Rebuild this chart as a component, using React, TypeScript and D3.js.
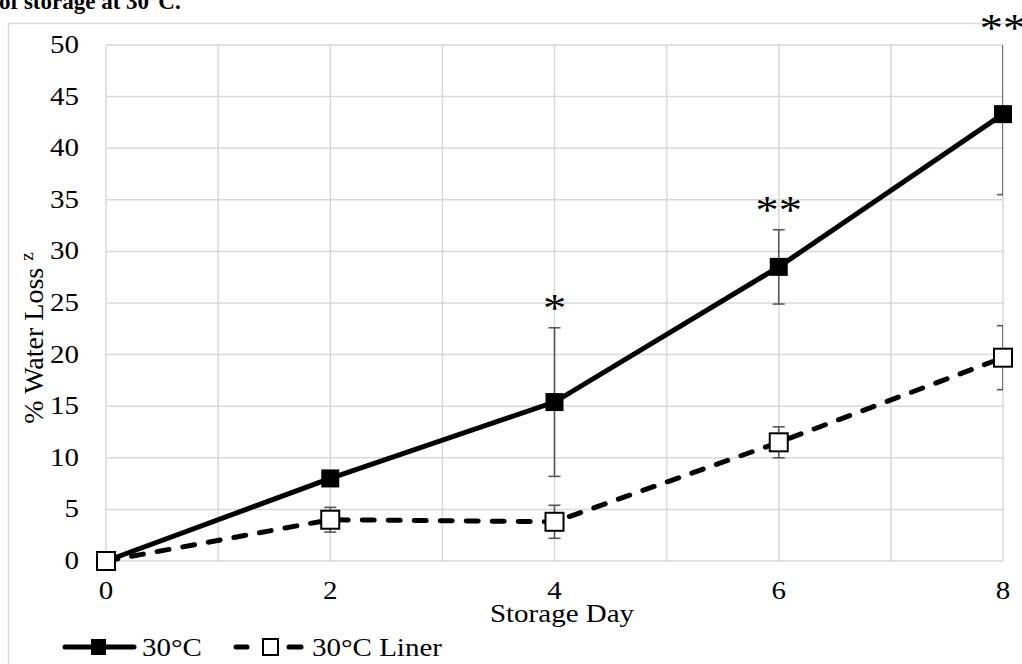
import React, { useEffect, useRef } from "react";
import * as d3 from "d3";

const days = [0, 2, 4, 6, 8];
const tempMeans = [0, 8.0, 15.4, 28.5, 43.3];
const tempErr = [0, 0.4, 7.2, 3.6, 7.8];
const linerMeans = [0, 4.0, 3.8, 11.5, 19.7];
const linerErr = [0, 1.2, 1.6, 1.5, 3.1];
const stars = ["", "", "*", "**", "**"];
const yTicks = [0, 5, 10, 15, 20, 25, 30, 35, 40, 45, 50];
const xTicks = [0, 2, 4, 6, 8];
const xGrid = [0, 1, 2, 3, 4, 5, 6, 7, 8];

const App = () => {
  const chartRef = useRef<SVGSVGElement>(null);

  useEffect(() => {
    const W = 1022;
    const H = 664;
    const plot = { left: 106, top: 45, right: 1003, bottom: 561 };
    const font = "'Liberation Serif', 'Times New Roman', serif";
    const fs = 25;
    const sx = 1.16; // text in the picture is a bit wide

    const svg = d3.select(chartRef.current).attr("width", W).attr("height", H);
    svg.selectAll("*").remove();

    const x = d3.scaleLinear().domain([0, 8]).range([plot.left, plot.right]);
    const y = d3.scaleLinear().domain([0, 50]).range([plot.bottom, plot.top]);

    const label = (g: any, tx: number, ty: number, str: string, anchor = "start", size = fs) =>
      g
        .append("text")
        .attr("transform", `translate(${tx},${ty}) scale(${sx},1)`)
        .attr("text-anchor", anchor)
        .attr("font-family", font)
        .attr("font-size", size)
        .attr("fill", "#000")
        .text(str);

    svg
      .append("defs")
      .append("clipPath")
      .attr("id", "plotclip")
      .append("rect")
      .attr("x", plot.left - 20)
      .attr("y", plot.top)
      .attr("width", plot.right - plot.left + 20)
      .attr("height", plot.bottom - plot.top + 20);

    // cut-off caption above the chart
    svg
      .append("text")
      .attr("x", -1)
      .attr("y", 9)
      .attr("font-family", font)
      .attr("font-weight", "bold")
      .attr("font-size", 23)
      .attr("fill", "#000")
      .text("of storage at 30°C.");

    // outer chart border
    svg
      .append("rect")
      .attr("x", 8.5)
      .attr("y", 23.5)
      .attr("width", 1040)
      .attr("height", 700)
      .attr("fill", "none")
      .attr("stroke", "#d9d9d9")
      .attr("stroke-width", 1.5);

    // grid
    svg
      .append("g")
      .selectAll("line")
      .data(yTicks)
      .enter()
      .append("line")
      .attr("x1", plot.left)
      .attr("x2", plot.right)
      .attr("y1", (d) => y(d))
      .attr("y2", (d) => y(d))
      .attr("stroke", "#d9d9d9")
      .attr("stroke-width", 1.5);

    svg
      .append("g")
      .selectAll("line")
      .data(xGrid)
      .enter()
      .append("line")
      .attr("x1", (d) => x(d))
      .attr("x2", (d) => x(d))
      .attr("y1", plot.top)
      .attr("y2", plot.bottom)
      .attr("stroke", "#d9d9d9")
      .attr("stroke-width", 1.5);

    // tick labels
    const tg = svg.append("g");
    yTicks.forEach((d) => label(tg, 79, y(d) + 8, String(d), "end"));
    xTicks.forEach((d) => label(tg, x(d), 599, String(d), "middle"));
    label(tg, 562, 622, "Storage Day", "middle");

    const yl = svg
      .append("text")
      .attr("transform", "translate(43,338) rotate(-90)")
      .attr("text-anchor", "middle")
      .attr("font-family", font)
      .attr("font-size", 28)
      .attr("fill", "#000");
    yl.append("tspan").text("% Water Loss ");
    yl.append("tspan").attr("font-size", 19).attr("dy", -10).text("z");

    // error bars
    const errG = svg.append("g").attr("clip-path", "url(#plotclip)");
    const drawErr = (means: number[], errs: number[]) => {
      days.forEach((d, i) => {
        if (!errs[i]) return;
        const cx = x(d);
        const hi = y(means[i] + errs[i]);
        const lo = y(means[i] - errs[i]);
        errG
          .append("line")
          .attr("x1", cx)
          .attr("x2", cx)
          .attr("y1", hi)
          .attr("y2", lo)
          .attr("stroke", "#595959")
          .attr("stroke-width", 1.6);
        [hi, lo].forEach((yy) => {
          errG
            .append("line")
            .attr("x1", cx - 6)
            .attr("x2", cx + 6)
            .attr("y1", yy)
            .attr("y2", yy)
            .attr("stroke", "#595959")
            .attr("stroke-width", 1.6);
        });
      });
    };
    drawErr(tempMeans, tempErr);
    drawErr(linerMeans, linerErr);

    const line = d3
      .line<number>()
      .x((d, i) => x(days[i]))
      .y((d) => y(d));

    // 30°C series
    svg
      .append("path")
      .datum(tempMeans)
      .attr("d", line)
      .attr("fill", "none")
      .attr("stroke", "#000")
      .attr("stroke-width", 5);
    const m = 18;
    svg
      .append("g")
      .selectAll("rect")
      .data(tempMeans)
      .enter()
      .append("rect")
      .attr("x", (d, i) => x(days[i]) - m / 2)
      .attr("y", (d) => y(d) - m / 2)
      .attr("width", m)
      .attr("height", m)
      .attr("fill", "#000");

    // 30°C Liner series
    svg
      .append("path")
      .datum(linerMeans)
      .attr("d", line)
      .attr("fill", "none")
      .attr("stroke", "#000")
      .attr("stroke-width", 5)
      .attr("stroke-linecap", "round")
      .attr("stroke-dasharray", "12,14");
    svg
      .append("g")
      .selectAll("rect")
      .data(linerMeans)
      .enter()
      .append("rect")
      .attr("x", (d, i) => x(days[i]) - m / 2)
      .attr("y", (d) => y(d) - m / 2)
      .attr("width", m)
      .attr("height", m)
      .attr("fill", "#fff")
      .attr("stroke", "#000")
      .attr("stroke-width", 2);

    // significance stars (asterisk glyph sits ~0.53em above baseline)
    const sg = svg.append("g");
    stars.forEach((s, i) => {
      if (!s) return;
      const top = y(tempMeans[i] + tempErr[i]);
      const center = top < plot.top ? 20 : top - 28;
      label(sg, x(days[i]), center + 0.53 * 40, s, "middle", 40);
    });

    // legend
    const lg = svg.append("g").attr("transform", "translate(0,647)");
    lg.append("line")
      .attr("x1", 65)
      .attr("x2", 134)
      .attr("stroke", "#000")
      .attr("stroke-width", 5)
      .attr("stroke-linecap", "round");
    lg.append("rect")
      .attr("x", 91)
      .attr("y", -8)
      .attr("width", 15)
      .attr("height", 16)
      .attr("fill", "#000");
    label(lg, 142, 9, "30°C");
    [
      [236, 247],
      [289, 301],
    ].forEach(([a, b]) => {
      lg.append("line")
        .attr("x1", a)
        .attr("x2", b)
        .attr("stroke", "#000")
        .attr("stroke-width", 5)
        .attr("stroke-linecap", "round");
    });
    lg.append("rect")
      .attr("x", 263)
      .attr("y", -8)
      .attr("width", 15)
      .attr("height", 16)
      .attr("fill", "#fff")
      .attr("stroke", "#000")
      .attr("stroke-width", 2);
    label(lg, 312, 9, "30°C Liner");
  }, []);

  return (
    <div style={{ position: "absolute", left: 0, top: 0 }}>
      <svg ref={chartRef}></svg>
    </div>
  );
};

export default App;
